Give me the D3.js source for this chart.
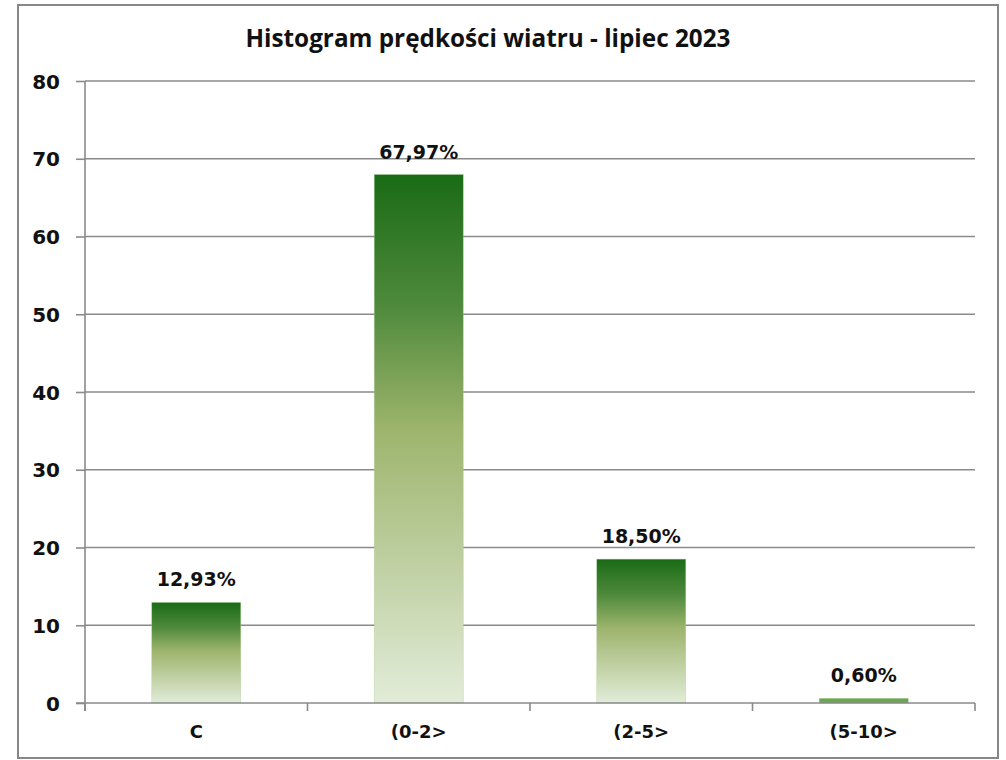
<!DOCTYPE html>
<html lang="pl">
<head>
<meta charset="UTF-8" />
<title>Histogram prędkości wiatru - lipiec 2023</title>
<script src="https://d3js.org/d3.v7.min.js"></script>
<style>
    body { margin: 0; background: #fff; }
    svg { display: block; font-family: "DejaVu Sans", sans-serif; font-weight: bold; }
    .axis path.domain { display: none; }
    .axis text { fill: #111; font-family: "DejaVu Sans", sans-serif; font-weight: bold; }
    .title { font-family: "Open Sans", sans-serif; }
</style>
</head>
<body>
<svg id="chart" width="1006" height="760"></svg>
<script>
    const title = "Histogram prędkości wiatru - lipiec 2023";
    const categories = ["C", "(0-2>", "(2-5>", "(5-10>"];
    const values = [12.93, 67.97, 18.50, 0.60];
    const valueLabels = ["12,93%", "67,97%", "18,50%", "0,60%"];
    const yTicks = [0, 10, 20, 30, 40, 50, 60, 70, 80];

    const svg = d3.select("#chart");
    const margin = { top: 81, right: 31, bottom: 57, left: 85 };
    const width = +svg.attr("width");
    const height = +svg.attr("height");
    const gridColor = "#8a8a8a";

    // ramka
    svg.append("rect")
        .attr("x", 18).attr("y", 5)
        .attr("width", 980).attr("height", 753)
        .attr("fill", "#fff")
        .attr("stroke", "#878787")
        .attr("stroke-width", 2);

    svg.append("text")
        .attr("class", "title")
        .attr("x", 488).attr("y", 47)
        .attr("text-anchor", "middle")
        .attr("font-size", 24.3)
        .attr("fill", "#111")
        .text(title);

    const x = d3.scaleBand()
        .domain(categories)
        .range([margin.left, width - margin.right])
        .paddingInner(0.6)
        .paddingOuter(0.3);

    const y = d3.scaleLinear()
        .domain([0, 80])
        .range([height - margin.bottom, margin.top]);

    const defs = svg.append("defs");
    const grad = defs.append("linearGradient")
        .attr("id", "barGrad")
        .attr("x1", 0).attr("y1", 0)
        .attr("x2", 0).attr("y2", 1);
    grad.append("stop").attr("offset", "0%").attr("stop-color", "#1a6b16");
    grad.append("stop").attr("offset", "25%").attr("stop-color", "#4f8a3c");
    grad.append("stop").attr("offset", "48%").attr("stop-color", "#9db46c");
    grad.append("stop").attr("offset", "100%").attr("stop-color", "#e2ecd9");

    // linie siatki
    svg.append("g")
        .selectAll("line")
        .data(yTicks.filter(d => d > 0))
        .join("line")
        .attr("x1", margin.left)
        .attr("x2", width - margin.right)
        .attr("y1", d => y(d))
        .attr("y2", d => y(d))
        .attr("stroke", gridColor)
        .attr("stroke-width", 1.6);

    // oś Y
    const yAxis = svg.append("g")
        .attr("class", "axis")
        .attr("transform", `translate(${margin.left},0)`)
        .call(d3.axisLeft(y).tickValues(yTicks).tickSize(9).tickPadding(16));
    yAxis.attr("font-family", null);
    yAxis.selectAll(".tick line").attr("stroke", gridColor).attr("stroke-width", 1.6);
    yAxis.selectAll(".tick text").attr("font-size", 20).attr("dy", "0.36em");

    svg.append("line")
        .attr("x1", margin.left).attr("x2", margin.left)
        .attr("y1", y(80)).attr("y2", y(0) + 8)
        .attr("stroke", gridColor).attr("stroke-width", 1.6);

    // słupki
    svg.append("g")
        .selectAll("rect")
        .data(values)
        .join("rect")
        .attr("x", (d, i) => x(categories[i]))
        .attr("y", d => y(d))
        .attr("width", x.bandwidth())
        .attr("height", d => y(0) - y(d))
        .attr("fill", (d, i) => d < 2 ? "#6aa84f" : "url(#barGrad)")
        .attr("stroke", "#a9cc8f")
        .attr("stroke-width", 0.6)
        .attr("stroke-opacity", 0.6);

    svg.append("g")
        .selectAll("text")
        .data(values)
        .join("text")
        .attr("x", (d, i) => x(categories[i]) + x.bandwidth() / 2)
        .attr("y", d => y(d) - 16)
        .attr("text-anchor", "middle")
        .attr("font-size", 19)
        .attr("fill", "#111")
        .text((d, i) => valueLabels[i]);

    // oś X
    svg.append("line")
        .attr("x1", margin.left - 9).attr("x2", width - margin.right)
        .attr("y1", y(0)).attr("y2", y(0))
        .attr("stroke", gridColor).attr("stroke-width", 1.6);

    const step = x.step();
    const bounds = d3.range(categories.length + 1).map(i => margin.left + i * step);
    svg.append("g")
        .selectAll("line")
        .data(bounds)
        .join("line")
        .attr("x1", d => d).attr("x2", d => d)
        .attr("y1", y(0)).attr("y2", y(0) + 8)
        .attr("stroke", gridColor).attr("stroke-width", 1.6);

    const xAxis = svg.append("g")
        .attr("class", "axis")
        .attr("transform", `translate(0,${y(0)})`)
        .call(d3.axisBottom(x).tickSize(0).tickPadding(22));
    xAxis.attr("font-family", null);
    xAxis.selectAll(".tick text").attr("font-size", 18).attr("dy", "0.71em");
</script>
</body>
</html>
